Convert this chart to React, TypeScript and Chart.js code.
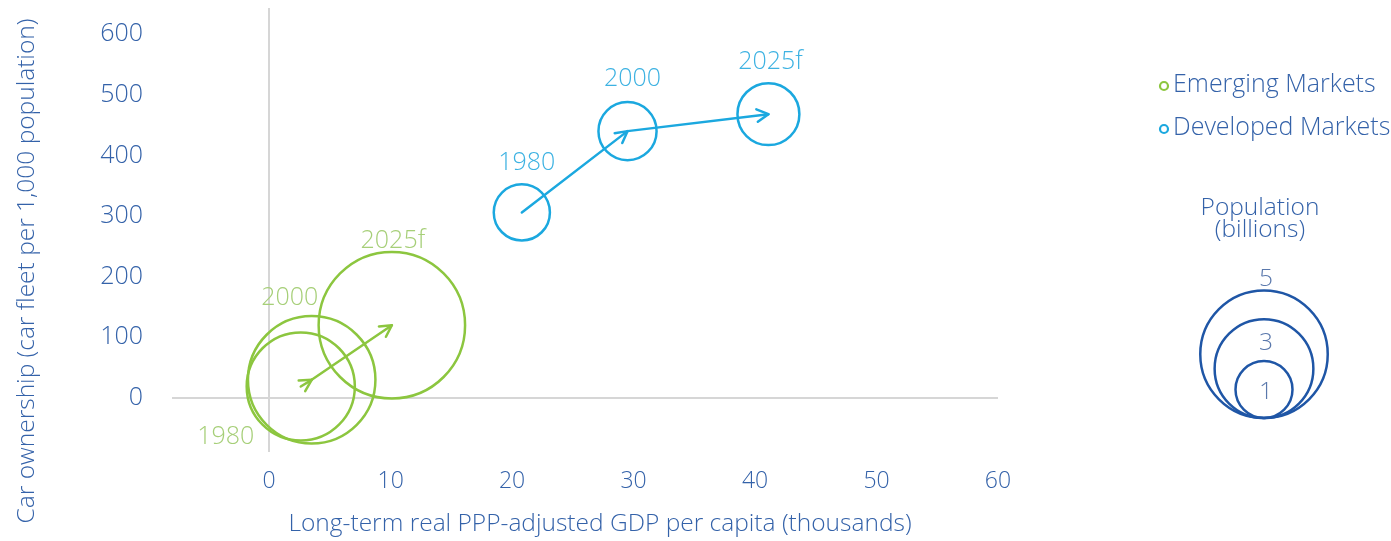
import React, { useEffect, useRef } from 'react';
import { Chart, registerables } from 'chart.js';

Chart.register(...registerables);

// ---- Data ----
const years = ['1980', '2000', '2025f'];

const emergingGdp = [2.6, 3.5, 10.1]; // thousands
const emergingCars = [19, 30, 120]; // cars per 1,000 people
const emergingPop = [3.6, 5.0, 6.6]; // billions

const developedGdp = [20.8, 29.5, 41.1];
const developedCars = [306, 440, 468];
const developedPop = [0.97, 1.04, 1.18];

const legendPops = [5, 3, 1];
const xTickValues = [0, 10, 20, 30, 40, 50, 60];
const yTickValues = [0, 100, 200, 300, 400, 500, 600];

const seriesNames = ['Emerging Markets', 'Developed Markets'];
const xTitle = 'Long-term real PPP-adjusted GDP per capita (thousands)';
const yTitle = 'Car ownership (car fleet per 1,000 population)';
const popTitle = ['Population', '(billions)'];

// ---- Styling / layout ----
const GREEN = '#8cc63f';
const GREEN_TEXT = '#a6cf78';
const BLUE = '#1ba8df';
const BLUE_TEXT = '#3db2e2';
const TEXT = '#3462a9';
const POP_BLUE = '#1f56a6';
const POP_TEXT = '#5a78ac';
const AXIS = '#d6d6d6';
const FONT = "'Open Sans', 'DejaVu Sans', sans-serif";
const K = 28.5; // px per sqrt(billion)

const radius = (p: number) => K * Math.sqrt(p);

// label offsets relative to bubble centre (px)
const emergingLabelOffsets = [[-75, 50], [-22, -82], [1, -84]];
const developedLabelOffsets = [[5, -50], [5, -52], [2, -52]];

function App() {
  const ref = useRef<HTMLCanvasElement | null>(null);

  useEffect(() => {
    const canvas = ref.current;
    if (!canvas) return;

    const emergingData = emergingGdp.map((x, i) => ({ x, y: emergingCars[i], r: radius(emergingPop[i]) }));
    const developedData = developedGdp.map((x, i) => ({ x, y: developedCars[i], r: radius(developedPop[i]) }));

    const drawArrow = (ctx: CanvasRenderingContext2D, x1: number, y1: number, x2: number, y2: number, color: string) => {
      const ang = Math.atan2(y2 - y1, x2 - x1);
      const head = 13;
      ctx.save();
      ctx.strokeStyle = color;
      ctx.lineWidth = 2.5;
      ctx.lineCap = 'round';
      ctx.lineJoin = 'round';
      ctx.beginPath();
      ctx.moveTo(x1, y1);
      ctx.lineTo(x2, y2);
      ctx.stroke();
      ctx.beginPath();
      ctx.moveTo(x2 - head * Math.cos(ang - 0.5), y2 - head * Math.sin(ang - 0.5));
      ctx.lineTo(x2, y2);
      ctx.lineTo(x2 - head * Math.cos(ang + 0.5), y2 - head * Math.sin(ang + 0.5));
      ctx.stroke();
      ctx.restore();
    };

    const overlay = {
      id: 'overlay',
      afterDatasetsDraw(chart: any) {
        const ctx: CanvasRenderingContext2D = chart.ctx;
        const cfg = [
          { color: GREEN, text: GREEN_TEXT, offsets: emergingLabelOffsets },
          { color: BLUE, text: BLUE_TEXT, offsets: developedLabelOffsets },
        ];
        cfg.forEach((c, di) => {
          const meta = chart.getDatasetMeta(di);
          const pts = meta.data;
          for (let i = 0; i < pts.length - 1; i++) {
            drawArrow(ctx, pts[i].x, pts[i].y, pts[i + 1].x, pts[i + 1].y, c.color);
          }
          ctx.save();
          ctx.fillStyle = c.text;
          ctx.font = `300 25px ${FONT}`;
          ctx.textAlign = 'center';
          ctx.textBaseline = 'middle';
          pts.forEach((p: any, i: number) => {
            ctx.fillText(years[i], p.x + c.offsets[i][0], p.y + c.offsets[i][1]);
          });
          ctx.restore();
        });
      },
      afterDraw(chart: any) {
        const ctx: CanvasRenderingContext2D = chart.ctx;
        ctx.save();
        // axis titles
        ctx.fillStyle = TEXT;
        ctx.font = `300 24.5px ${FONT}`;
        ctx.textAlign = 'center';
        ctx.textBaseline = 'middle';
        ctx.fillText(xTitle, 600, 524);
        ctx.save();
        ctx.translate(27, 271);
        ctx.rotate(-Math.PI / 2);
        ctx.fillText(yTitle, 0, 0);
        ctx.restore();

        // series legend
        ctx.font = `300 25px ${FONT}`;
        const legendColors = [GREEN, BLUE];
        seriesNames.forEach((name, i) => {
          const y = 85 + i * 43;
          ctx.beginPath();
          ctx.strokeStyle = legendColors[i];
          ctx.lineWidth = 2.2;
          ctx.arc(1164, y + 1, 4, 0, Math.PI * 2);
          ctx.stroke();
          ctx.fillStyle = TEXT;
          ctx.textAlign = 'left';
          ctx.fillText(name, 1173, y);
        });

        // population legend
        ctx.font = `300 24.5px ${FONT}`;
        ctx.textAlign = 'center';
        ctx.fillStyle = TEXT;
        ctx.fillText(popTitle[0], 1260, 208);
        ctx.fillText(popTitle[1], 1260, 230);
        const cx = 1264;
        const bottom = 418;
        const labelDy = [-12, 24, 31];
        legendPops.forEach((p, i) => {
          const r = radius(p);
          ctx.beginPath();
          ctx.strokeStyle = POP_BLUE;
          ctx.lineWidth = 2.5;
          ctx.arc(cx, bottom - r, r, 0, Math.PI * 2);
          ctx.stroke();
          ctx.fillStyle = POP_TEXT;
          ctx.fillText(String(p), cx + 2, bottom - 2 * r + labelDy[i]);
        });
        ctx.restore();
      },
    };

    const chart = new Chart(canvas, {
      type: 'bubble',
      data: {
        datasets: [
          {
            label: seriesNames[0],
            data: emergingData,
            borderColor: GREEN,
            backgroundColor: 'rgba(0,0,0,0)',
            borderWidth: 2.5,
            clip: false as any,
          },
          {
            label: seriesNames[1],
            data: developedData,
            borderColor: BLUE,
            backgroundColor: 'rgba(0,0,0,0)',
            borderWidth: 2.5,
            clip: false as any,
          },
        ],
      },
      options: {
        animation: false,
        responsive: false,
        events: [],
        layout: { autoPadding: false, padding: { left: 0, top: 8, right: 393, bottom: 0 } } as any,
        plugins: {
          legend: { display: false },
          tooltip: { enabled: false },
        },
        scales: {
          x: {
            type: 'linear',
            min: -8,
            max: 60,
            afterFit: (s: any) => {
              s.height = 89;
              s.paddingLeft = 0;
              s.paddingRight = 0;
            },
            afterBuildTicks: (s: any) => { s.ticks = xTickValues.map((v) => ({ value: v })); },
            border: { display: false },
            grid: {
              drawTicks: false,
              lineWidth: 2,
              color: (c: any) => (c.tick && c.tick.value === 0 ? AXIS : 'rgba(0,0,0,0)'),
            },
            ticks: {
              padding: 16,
              color: TEXT,
              font: { family: FONT, size: 23, weight: '300' as any },
            },
          },
          y: {
            type: 'linear',
            min: -89,
            max: 643,
            afterFit: (s: any) => {
              s.width = 172;
              s.paddingTop = 0;
              s.paddingBottom = 0;
            },
            afterBuildTicks: (s: any) => { s.ticks = yTickValues.map((v) => ({ value: v })); },
            border: { display: false },
            grid: {
              drawTicks: false,
              lineWidth: 2,
              color: (c: any) => (c.tick && c.tick.value === 0 ? AXIS : 'rgba(0,0,0,0)'),
            },
            ticks: {
              padding: 29,
              color: TEXT,
              font: { family: FONT, size: 25, weight: '300' as any },
            },
          },
        },
      },
      plugins: [overlay],
    });

    return () => chart.destroy();
  }, []);

  return (
    <div style={{ position: 'absolute', left: 0, top: 0, width: 1391, height: 541, background: '#fff' }}>
      <canvas ref={ref} width={1391} height={541} style={{ display: 'block' }} />
    </div>
  );
}

export default App;
